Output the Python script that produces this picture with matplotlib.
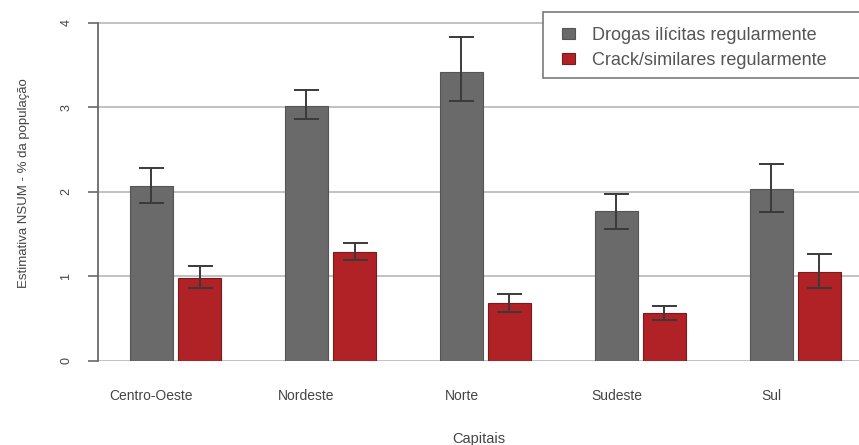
import matplotlib.pyplot as plt
from matplotlib.patches import Rectangle
import numpy as np

plt.rcParams['font.family'] = ['Liberation Sans', 'DejaVu Sans']

# estimativas NSUM por regiao (% da populacao) com intervalos
regioes = ["Centro-Oeste", "Nordeste", "Norte", "Sudeste", "Sul"]

drogas     = [2.07, 3.02, 3.42, 1.77, 2.03]
drogas_inf = [1.87, 2.86, 3.07, 1.56, 1.76]
drogas_sup = [2.28, 3.21, 3.83, 1.98, 2.33]

crack     = [0.98, 1.29, 0.68, 0.57, 1.05]
crack_inf = [0.86, 1.19, 0.58, 0.49, 0.86]
crack_sup = [1.12, 1.39, 0.79, 0.65, 1.26]

COR_DROGAS = "#6a6a6a"
COR_CRACK = "#b02226"
TXT = "#444444"

W, H = 859, 445
fig = plt.figure(figsize=(W / 100, H / 100), dpi=100)
ax = fig.add_axes([98 / W, 84 / H, 761 / W, 356 / H])

x = np.arange(len(regioes))
w = 0.277
off = 0.155

# grade horizontal atras das barras
for v in range(0, 5):
    ax.axhline(v, color="#c2c2c2", lw=1.4, zorder=0)

def err(vals, inf, sup):
    vals = np.array(vals)
    return [vals - np.array(inf), np.array(sup) - vals]

b1 = ax.bar(x - off, drogas, w, color=COR_DROGAS, edgecolor="#555555", lw=0.8,
            label="Drogas ilícitas regularmente", zorder=2)
b2 = ax.bar(x + off, crack, w, color=COR_CRACK, edgecolor="#7a1a1a", lw=0.8,
            label="Crack/similares regularmente", zorder=2)
ax.errorbar(x - off, drogas, yerr=err(drogas, drogas_inf, drogas_sup), fmt="none",
            ecolor="#3a3a3a", elinewidth=1.4, capsize=9, capthick=1.4, zorder=3)
ax.errorbar(x + off, crack, yerr=err(crack, crack_inf, crack_sup), fmt="none",
            ecolor="#3a3a3a", elinewidth=1.4, capsize=9, capthick=1.4, zorder=3)

ax.set_xlim(-0.5, 4.41)
ax.set_ylim(0, 4.21)

for s in ["top", "right", "bottom"]:
    ax.spines[s].set_visible(False)
ax.spines["left"].set_bounds(0, 4)
ax.spines["left"].set_color("#6a6a6a")
ax.spines["left"].set_linewidth(1.3)

ax.set_yticks([0, 1, 2, 3, 4])
ax.set_yticklabels(["0", "1", "2", "3", "4"], rotation=90, va="center",
                   fontsize=9, color=TXT)
ax.tick_params(axis="y", length=7, width=1.2, color="#6a6a6a", pad=11.5)

# nomes das regioes sob a primeira barra de cada grupo
ax.set_xticks(x - off)
ax.set_xticklabels(regioes, fontsize=10, color=TXT)
ax.tick_params(axis="x", length=0, pad=20)

ax.set_xlabel("Capitais", fontsize=10.5, color=TXT, labelpad=21)
ax.set_ylabel("Estimativa NSUM - % da população", fontsize=9.5, color=TXT,
              labelpad=22)

# caixa da legenda (passa da borda direita)
ax.add_patch(Rectangle((543 / W, 1 - 78 / H), 340 / W, 66 / H,
                       transform=fig.transFigure, facecolor="white",
                       edgecolor="#7a7a7a", lw=1.2, zorder=4, clip_on=False))
leg = ax.legend(loc="upper left", bbox_to_anchor=(562 / W, 1 - 27 / H),
                bbox_transform=fig.transFigure,
                fontsize=13, frameon=False,
                handlelength=0.7, handleheight=0.6, handletextpad=0.95,
                borderpad=0, labelspacing=0.45, borderaxespad=0)
leg.set_zorder(5)
for t in leg.get_texts():
    t.set_color("#555555")

fig.savefig("out.png", dpi=100, facecolor="white")
